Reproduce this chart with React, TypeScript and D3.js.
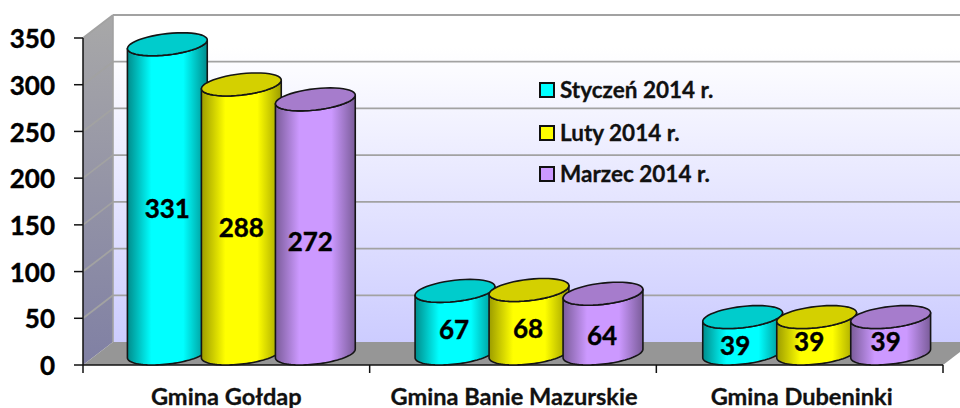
import React from "react";
import * as d3 from "d3";

const categories = ["Gmina Gołdap", "Gmina Banie Mazurskie", "Gmina Dubeninki"];
const seriesNames = ["Styczeń 2014 r.", "Luty 2014 r.", "Marzec 2014 r."];
const styczen = [331, 67, 39];
const luty = [288, 68, 39];
const marzec = [272, 64, 39];
const seriesValues = [styczen, luty, marzec];
const yTicks = [0, 50, 100, 150, 200, 250, 300, 350];

const bodyMid = ["#00ffff", "#ffff00", "#cc99ff"];
const bodyEdge = ["#008c8c", "#9c9c00", "#7a5c99"];
const topFill = ["#00cccc", "#d4d000", "#a67ccc"];

const font = "Lato, Carlito, sans-serif";
const W = 960, H = 408;
const x0 = 83, x1 = 943, yBase = 365, yTop = 38;
const depthX = 30, depthY = 23;

const y = d3.scaleLinear().domain([0, 350]).range([yBase, yTop]);
const xCat = d3.scaleBand<number>().domain([0, 1, 2]).range([x0, x1]);
const xBars = d3.scaleBand<number>().domain([0, 1, 2]).range([x0 - 0.5, x0 - 0.5 + 863]);
const pitch = 74;
const halfW = 37;
const halfDX = depthX / 2;
const halfDY = depthY / 2;
const tilt = Math.atan(halfDX / halfW);

const curve = d3.line<[number, number]>().x(d => d[0]).y(d => d[1]);
const pt = (cx: number, cy: number, t: number): [number, number] => [
  cx + halfW * Math.cos(t) + halfDX * Math.sin(t),
  cy - halfDY * Math.sin(t),
];
const arcPts = (cx: number, cy: number, a: number, b: number) =>
  d3.range(0, 49).map(i => pt(cx, cy, a + ((b - a) * i) / 48));

// manual label nudges relative to each cylinder's body middle
const labelDx = [[0, 0, -5], [-1, -1, -1], [-7.5, -7.5, -5]];
const labelDy = [[10, 9, 15], [8, 7, 12], [11, 7, 7]];

const gradId = (s: number) => `body${s}`;
const barX = (c: number, s: number) =>
  (xBars(c) as number) + xBars.bandwidth() / 2 + depthX / 2 + (s - 1) * pitch;

function Cylinder({ s, c }: { s: number; c: number }) {
  const v = seriesValues[s][c];
  const cx = barX(c, s);
  const base = yBase - depthY / 2;
  const top = y(v) - depthY / 2;
  const r = tilt, l = tilt + Math.PI;
  const frontBottom = arcPts(cx, base, r, l - 2 * Math.PI).reverse();
  const frontTop = arcPts(cx, top, r, l - 2 * Math.PI);
  const bodyPts = [...frontTop, ...frontBottom];
  const ell = arcPts(cx, top, 0, 2 * Math.PI);
  return (
    <g>
      <path
        d={(curve(bodyPts) as string) + "Z"}
        fill={`url(#${gradId(s)})`}
        stroke="#151515"
        strokeWidth={1.6}
        strokeLinejoin="round"
      />
      <path d={(curve(ell) as string) + "Z"} fill={topFill[s]} stroke="#151515" strokeWidth={1.6} />
    </g>
  );
}

export default function App() {
  const ticks = yTicks.map(t => y(t));
  return (
    <svg width={W} height={H} viewBox={`0 0 ${W} ${H}`} style={{ position: "absolute", left: 0, top: 0, display: "block", background: "#fff" }}>
      <defs>
        <linearGradient id="wall" x1="0" y1="0" x2="0" y2="1">
          <stop offset="0" stopColor="#ffffff" />
          <stop offset="0.1" stopColor="#ffffff" />
          <stop offset="1" stopColor="#ccccff" />
        </linearGradient>
        <linearGradient id="side" x1="0" y1="0" x2="0" y2="1">
          <stop offset="0" stopColor="#a8a8a8" />
          <stop offset="1" stopColor="#8080a4" />
        </linearGradient>
        {bodyMid.map((m, s) => (
          <linearGradient key={s} id={gradId(s)} x1="0" y1="0" x2="1" y2="0">
            <stop offset="0" stopColor={bodyEdge[s]} />
            <stop offset="0.3" stopColor={m} />
            <stop offset="0.7" stopColor={m} />
            <stop offset="1" stopColor={bodyEdge[s]} />
          </linearGradient>
        ))}
      </defs>

      <rect x={x0 + depthX} y={yTop - depthY} width={x1 - x0} height={yBase - yTop} fill="url(#wall)" />
      <polygon
        points={[[x0, yBase], [x0, yTop], [x0 + depthX, yTop - depthY], [x0 + depthX, yBase - depthY]].join(" ")}
        fill="url(#side)"
      />
      <polygon
        points={[[x0, yBase], [x0 + depthX, yBase - depthY], [x1 + depthX, yBase - depthY], [x1, yBase]].join(" ")}
        fill="#969696"
      />
      {ticks.map((ty, i) => (
        <g key={i} stroke="#a2a2a2" strokeWidth={1.8} fill="none">
          {i > 0 && <line x1={x0 + depthX} x2={x1 + depthX} y1={ty - depthY} y2={ty - depthY} />}
          {i > 0 && <line x1={x0} x2={x0 + depthX} y1={ty} y2={ty - depthY} />}
        </g>
      ))}
      <line x1={x0 + depthX} x2={x0 + depthX} y1={yTop - depthY} y2={yBase - depthY} stroke="#a2a2a2" strokeWidth={1.6} />

      <g stroke="#111" strokeWidth={1.5}>
        <line x1={x0} x2={x0} y1={yTop} y2={yBase} />
        <line x1={x0} x2={x1} y1={yBase} y2={yBase} />
        {ticks.map((ty, i) => <line key={i} x1={x0 - 9} x2={x0} y1={ty} y2={ty} />)}
        {[0, 1, 2].map(c => <line key={c} x1={xCat(c)} x2={xCat(c)} y1={yBase} y2={yBase + 8} />)}
        <line x1={x1} x2={x1} y1={yBase} y2={yBase + 8} />
      </g>

      {[0, 1, 2].map(c => (
        <g key={c}>{[0, 1, 2].map(s => <Cylinder key={s} s={s} c={c} />)}</g>
      ))}

      <g fontFamily={font} fontWeight={700} fontSize={26} textAnchor="middle" fill="#000" stroke="#000" strokeWidth={0.4}>
        {[0, 1, 2].map(c =>
          [0, 1, 2].map(s => {
            const v = seriesValues[s][c];
            const mid = (y(v) + yBase) / 2 - depthY / 2;
            return (
              <text key={s} x={barX(c, s) + labelDx[c][s]} y={mid + labelDy[c][s]} dy="0.35em">{v}</text>
            );
          })
        )}
      </g>

      <g fontFamily={font} fontWeight={700} fontSize={26} textAnchor="end" fill="#000" stroke="#000" strokeWidth={0.4}>
        {yTicks.map((t, i) => <text key={t} x={55} y={ticks[i] + 1} dy="0.35em">{t}</text>)}
      </g>

      <g fontFamily={font} fontWeight={700} fontSize={23.6} textAnchor="middle" fill="#111" stroke="#111" strokeWidth={0.3}>
        {categories.map((n, c) => (
          <text key={n} x={(xBars(c) as number) + xBars.bandwidth() / 2} y={405}>{n}</text>
        ))}
      </g>

      <g>
        {seriesNames.map((n, s) => {
          const ly = [90, 133, 174][s];
          return (
            <g key={n}>
              <rect x={540} y={ly - 7} width={14} height={14} fill={bodyMid[s]} stroke="#111" strokeWidth={2} />
              <text x={560} y={ly} dy="0.35em" fontFamily={font} fontWeight={700} fontSize={22.5} fill="#111" stroke="#111" strokeWidth={0.3}>{n}</text>
            </g>
          );
        })}
      </g>
    </svg>
  );
}
